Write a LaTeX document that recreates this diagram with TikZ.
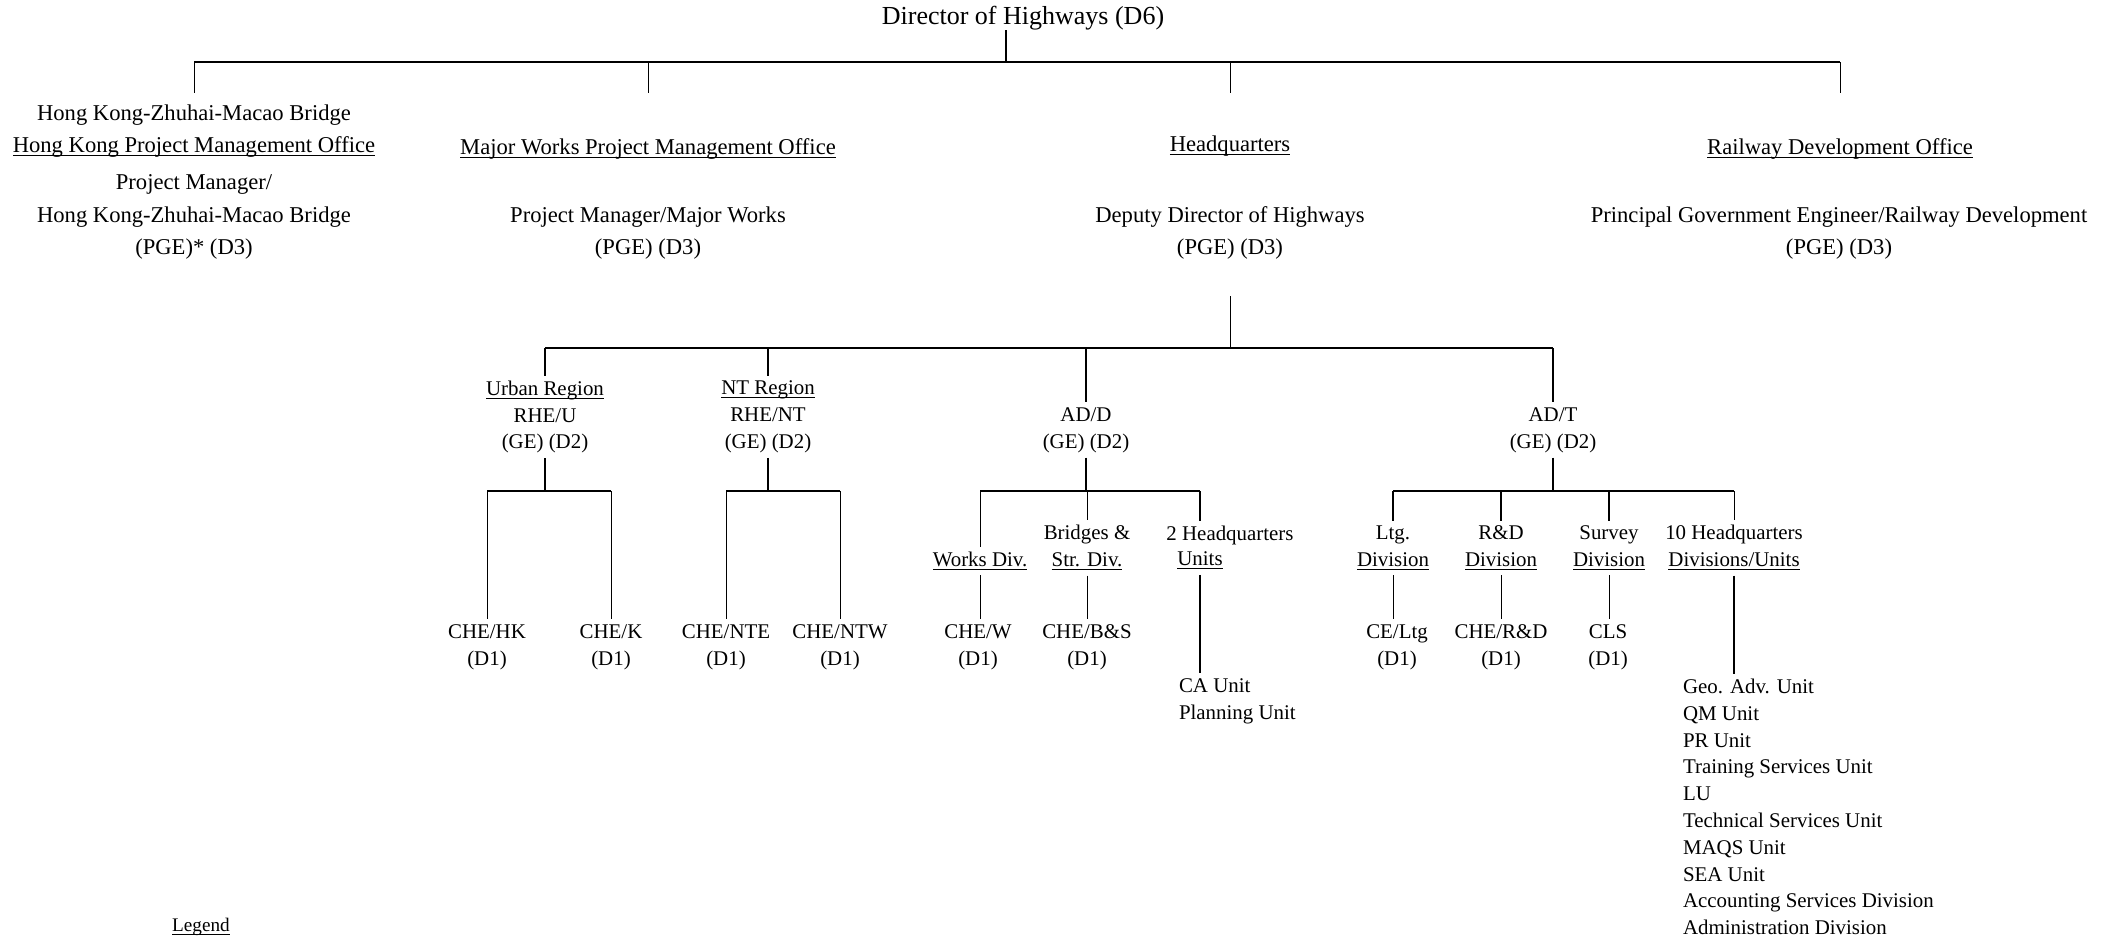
\documentclass[tikz,border=0pt]{standalone}
\usepackage{fontspec}
\setmainfont{Liberation Serif}
\newcommand\dirfont{\fontsize{13}{16}\selectfont}
\newcommand\officefont{\fontsize{11.3}{16.2}\selectfont}
\newcommand\unitfont{\fontsize{10.45}{13.4}\selectfont}
\newcommand\legendfont{\fontsize{9.6}{12}\selectfont}
\newcommand\ulabel[1]{\underline{\raisebox{0pt}[\height][0pt]{#1}}}
\tikzset{
  office/.style={align=center,inner sep=0pt,font=\officefont},
  unit/.style={align=center,inner sep=0pt,outer sep=2.5pt,font=\unitfont},
  tie/.style={line width=0.5pt},
  heavytie/.style={line width=1pt}
}

\begin{document}
\begin{tikzpicture}[x=0.5pt,y=-0.5pt]
        \useasboundingbox(0,0) rectangle (2114,938);
        \coordinate(bar0) at (0,62);
        \coordinate(stub0) at (0,93);
        \coordinate(stub1) at (0,296);
        \coordinate(bar1) at (0,348);
        \coordinate(bar2) at (0,491);
        \node[font=\dirfont,inner sep=0pt](dir) at (1023,18) {Director of Highways (D6)};
        \begin{scope}[every node/.style={office}]
          \node(hkzmb) at (194,182) {Hong Kong-Zhuhai-Macao Bridge\\\ulabel{Hong Kong Project Management Office}\\[2.5pt]Project Manager/\\Hong Kong-Zhuhai-Macao Bridge\\(PGE)* (D3)};
          \node(mwpmo) at (648,149) {\ulabel{Major Works Project Management Office}};
          \node(pmmw) at (648,233) {Project Manager/Major Works\\(PGE) (D3)};
          \node(hq) at (1230,146) {\ulabel{Headquarters}};
          \node(ddh) at (1230,233) {Deputy Director of Highways\\(PGE) (D3)};
          \node(rdo) at (1840,149) {\ulabel{Railway Development Office}};
          \node(pgerd) at (1839,233) {Principal Government Engineer/Railway Development\\(PGE) (D3)};
        \end{scope}
        \draw[heavytie]([xshift=-8.5pt]dir.south) -- ([xshift=-8.5pt]dir.south |- bar0);
        \draw[heavytie](hkzmb |- bar0) -- (rdo |- bar0);
        \foreach \n in {hkzmb,mwpmo,hq,rdo}
          \draw[tie](\n |- bar0) -- (\n |- stub0);
        \draw[tie](ddh |- stub1) -- (ddh |- bar1);
        \begin{scope}[every node/.style={unit}]
          \node(rheu) at (545,417) {\ulabel{Urban Region}\\RHE/U\\(GE) (D2)};
          \node(rhent) at (768,417) {\ulabel{NT Region}\\RHE/NT\\(GE) (D2)};
          \node(add) at (1086,430) {AD/D\\(GE) (D2)};
          \node(adt) at (1553,430) {AD/T\\(GE) (D2)};
          \node(chehk) at (487,647) {CHE/HK\\(D1)};
          \node(chek) at (611,647) {CHE/K\\(D1)};
          \node(chente) at (726,647) {CHE/NTE\\(D1)};
          \node(chentw) at (840,647) {CHE/NTW\\(D1)};
          \node(worksdiv) at (980,561) {\ulabel{Works Div.}};
          \node(strdiv) at (1087,548) {Bridges \&\\\ulabel{Str. Div.}};
          \node(hqtwo) at (1230,535) {2 Headquarters};
          \node(hqtwou) at (1200,561) {\ulabel{Units}};
          \node(chew) at (978,647) {CHE/W\\(D1)};
          \node(chebs) at (1087,647) {CHE/B\&S\\(D1)};
          \node[align=left,anchor=west](hqtwolist) at (1174,701) {CA Unit\\Planning Unit};
          \node(ltgdiv) at (1393,548) {Ltg.\\\ulabel{Division}};
          \node(rddiv) at (1501,548) {R\&D\\\ulabel{Division}};
          \node(svdiv) at (1609,548) {Survey\\\ulabel{Division}};
          \node(hqten) at (1734,548) {10 Headquarters\\\ulabel{Divisions/Units}};
          \node(celtg) at (1397,647) {CE/Ltg\\(D1)};
          \node(cherd) at (1501,647) {CHE/R\&D\\(D1)};
          \node(cls) at (1608,647) {CLS\\(D1)};
          \node[align=left,anchor=west](hqtenlist) at (1678,807) {Geo. Adv. Unit\\QM Unit\\PR Unit\\Training Services Unit\\LU\\Technical Services Unit\\MAQS Unit\\SEA Unit\\Accounting Services Division\\Administration Division};
        \end{scope}
        \draw[line width=0.7pt](rheu |- bar1) -- (adt |- bar1);
        \foreach \n in {rheu,rhent}
          \draw[line width=0.8pt](\n |- bar1) -- (\n.north);
        \foreach \n in {add,adt}
          \draw[heavytie](\n |- bar1) -- (\n.north);
        \draw[heavytie](rheu.south) -- (rheu |- bar2);
        \draw[heavytie](chehk |- bar2) -- (chek |- bar2);
        \draw[heavytie](rhent.south) -- (rhent |- bar2);
        \draw[heavytie](chente |- bar2) -- (chentw |- bar2);
        \foreach \n in {chehk,chek,chente,chentw}
          \draw[tie](\n |- bar2) -- (\n.north);
        \draw[heavytie](add.south) -- (add |- bar2);
        \draw[heavytie](worksdiv |- bar2) -- (hqtwou |- bar2);
        \draw[tie](worksdiv |- bar2) -- (worksdiv.north);
        \draw[tie](strdiv |- bar2) -- (strdiv.north);
        \draw[heavytie](hqtwou |- bar2) -- (hqtwou |- hqtwo.north);
        \draw[tie](worksdiv.south) -- (worksdiv |- chew.north);
        \draw[tie](strdiv.south) -- (strdiv |- chebs.north);
        \draw[heavytie](hqtwou.south) -- (hqtwou |- hqtwolist.north);
        \draw[heavytie](adt.south) -- (adt |- bar2);
        \draw[line width=0.8pt](ltgdiv |- bar2) -- (hqten |- bar2);
        \foreach \n in {ltgdiv,rddiv,svdiv}
          \draw[heavytie](\n |- bar2) -- (\n.north);
        \draw[tie](hqten |- bar2) -- (hqten.north);
        \draw[tie](ltgdiv.south) -- (ltgdiv |- celtg.north);
        \draw[tie](rddiv.south) -- (rddiv |- cherd.north);
        \draw[tie](svdiv.south) -- (svdiv |- cls.north);
        \draw[heavytie](hqten.south) -- (hqten |- hqtenlist.north);
        \node[font=\legendfont,inner sep=0pt](legend) at (201,927) {\ulabel{Legend}};
      \end{tikzpicture}
\end{document}
